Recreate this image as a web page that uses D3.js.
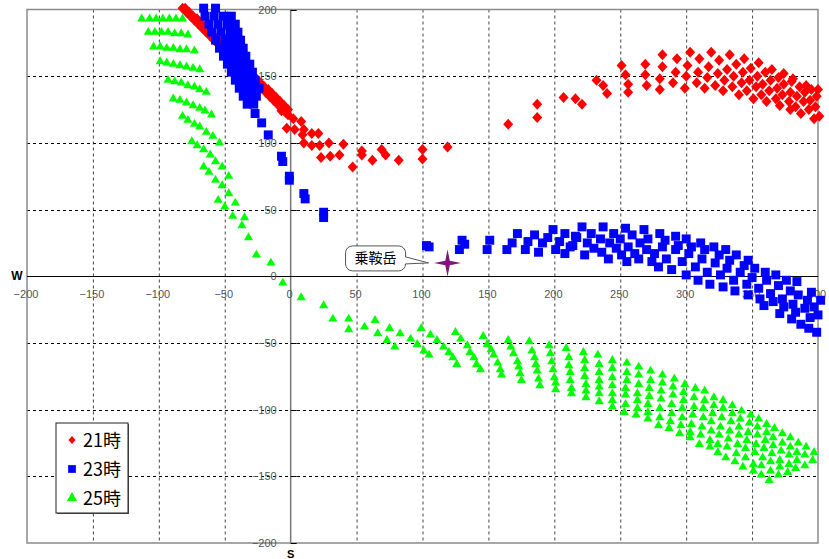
<!DOCTYPE html>
<html>
<head>
<meta charset="utf-8">
<script src="https://cdn.jsdelivr.net/npm/d3@7"></script>
<style>
  body { margin: 0; background: #fff; }
  svg { display: block; }
</style>
</head>
<body>
<script>
const width = 829;
const height = 559;
const marginTop = 9.5;
const marginRight = 11;
const marginBottom = 16;
const marginLeft = 27;

// 21時
const red21 = [
  [-82,201],[-80,201],[-79,198],[-77,198],[-76,195],[-74,195],[-73,192],[-71,193],[-70,189],[-68,190],
  [-67,186],[-65,187],[-64,183],[-62,184],[-61,180],[-59,181],[-58,177],[-56,178],[-55,174],[-53,175],
  [-52,171],[-50,172],[-49,168],[-47,169],[-46,165],[-44,166],[-43,162],[-41,163],[-40,159],[-38,160],
  [-37,156],[-35,157],[-34,153],[-32,154],[-31,150],[-29,151],[-28,147],[-26,148],[-25,144],[-23,145],
  [-22,141],[-20,142],[-19,138],[-17,140],[-16,135],[-14,137],[-13,132],[-11,134],[-10,129],[-8,131],
  [-7,126],[-5,128],[-4,123],[-2,125],[-7,124],[-4,124],[-2,121],[2,118],[-3,111],[3,110],
  [8,116],[10,110],[9,106],[16,107],[21,107],[10,100],[16,98],[22,98],[29,100],[40,99],
  [54,94],[69,95],[100,95],[119,97],[23,89],[30,90],[37,91],[47,82],[54,91],[62,87],
  [72,91],[82,87],[100,88],[165,114],[187,129],[187,119],
  [207,134],[216,133],[221,129],[232,147],[237,143],[240,137],[251,158],[254,151],[256,144],[256,138],
  [269,159],[269,151],[270,143],[280,140],[280,148],[282,157],[282,166],[290,145],[292,153],[293,163],
  [299,141],[300,150],[301,158],[303,168],[308,145],[309,153],[310,163],[314,141],[316,149],[317,157],
  [319,168],[322,143],[324,152],[325,162],[328,139],[329,147],[331,155],[333,166],[335,142],[336,150],
  [338,159],[340,136],[342,145],[343,153],[344,163],[346,139],[348,147],[349,156],[351,133],[353,142],
  [354,150],[355,160],[357,136],[358,144],[360,153],[361,131],[363,139],[364,147],[365,155],[368,133],
  [369,141],[370,149],[371,128],[373,136],[374,144],[374,152],[378,131],[379,138],[380,146],[381,148],
  [379,125],[383,127],[384,135],[386,142],[387,122],[389,131],[390,138],[391,143],[393,125],[394,132],
  [395,140],[397,118],[398,127],[399,135],[400,140],[401,120]
];

// 23時
const blue23 = [
  [-66,201],[-57,201],[-65,195],[-58,195],[-51,195],[-45,195],[-62,189],[-55,189],[-48,189],[-42,189],
  [-60,183],[-53,183],[-46,183],[-40,183],[-57,177],[-50,177],[-44,177],[-38,177],[-54,171],[-48,171],
  [-42,171],[-36,171],[-51,165],[-45,165],[-39,165],[-34,165],[-48,159],[-42,159],[-37,159],[-31,159],
  [-45,153],[-40,153],[-34,153],[-29,153],[-42,147],[-37,147],[-32,147],[-27,147],[-39,141],[-34,141],
  [-29,141],[-24,141],[-36,135],[-31,135],[-26,135],[-33,129],[-28,129],
  [-27,122],[-22,115],[-17,106],[-7,90],[-6,86],[-1,75],[-1,72],[10,62],[11,58],[25,48],[25,44],
  [103,23],[105,22],[128,20],[130,27],[132,24],[149,20],[151,27],[164,20],[168,25],[172,32],
  [178,20],[180,26],[185,31],[188,18],[191,25],[195,29],[199,35],[201,20],[204,26],[212,22],[217,29],
  [208,32],[208,17],[214,23],[216,30],[221,37],[223,16],[225,25],[228,32],[230,21],[235,28],
  [237,37],[236,18],[241,13],[242,25],[245,32],[247,21],[250,28],[251,16],[254,36],[255,11],
  [256,22],[259,31],[261,17],[264,13],[265,25],[268,35],[270,20],[271,28],[274,11],[276,17],
  [279,7],[280,32],[282,22],[284,27],[285,13],[289,5],[292,30],[292,20],[294,23],[297,11],
  [300,1],[300,28],[302,17],[304,22],[307,7],[309,-3],[311,25],[312,13],[314,20],[316,3],
  [318,-6],[321,22],[322,10],[325,16],[326,1],[328,-8],[330,20],[331,6],[333,12],[336,-3],
  [337,-11],[338,16],[341,3],[344,8],[346,-6],[347,-14],[347,12],[350,-1],[352,6],[355,-9],
  [356,-17],[359,-22],[360,3],[361,-3],[364,-13],[366,-19],[368,1],[370,-7],[371,-28],[373,-17],
  [374,-23],[376,-3],[379,-11],[380,-32],[381,-21],[383,-27],[384,-4],[385,-14],[387,-36],[390,-24],
  [392,-18],[393,-39],[394,-31],[395,-12],[397,-23],[399,-42],[400,-29],[402,-18]
];

// 25時
const green25 = [
  [-113,193],[-107,193],[-102,193],[-97,193],[-92,193],[-87,193],[-82,193],
  [-108,183],[-103,183],[-98,183],[-93,183],[-88,182],[-83,182],[-78,181],
  [-104,172],[-99,172],[-94,171],[-89,171],[-84,170],[-79,170],[-73,169],
  [-99,161],[-94,160],[-89,159],[-84,158],[-79,157],[-74,156],[-69,155],
  [-93,147],[-88,146],[-83,145],[-78,143],[-73,142],[-69,140],[-64,138],
  [-89,133],[-84,132],[-79,130],[-74,128],[-69,126],[-65,124],[-60,121],
  [-82,120],[-78,117],[-73,114],[-69,112],[-64,108],[-59,105],[-54,100],
  [-75,101],[-71,98],[-66,95],[-61,91],[-57,86],[-52,82],[-47,75],
  [-66,82],[-62,78],[-57,72],[-52,68],[-47,62],[-42,55],[-35,44],
  [-55,57],[-50,52],[-44,45],[-37,38],[-32,29],[-26,16],[-15,10],[-6,-5],
  [8,-16],[25,-22],[32,-32],[44,-32],[44,-40],[56,-38],[64,-33],[66,-43],[75,-39],[73,-48],
  [79,-53],[83,-43],[91,-47],[96,-51],[99,-39],[101,-56],[105,-59],[106,-44],[111,-48],[116,-53],
  [120,-57],[123,-61],[126,-66],[125,-42],[129,-47],[134,-52],[136,-57],[139,-61],[141,-66],[144,-70],
  [146,-45],[149,-51],[152,-55],[154,-59],[157,-65],[159,-70],[160,-74],
  [165,-48],[167,-53],[169,-58],[172,-64],[173,-68],[174,-73],[175,-78],
  [181,-49],[183,-56],[185,-61],[186,-66],[187,-71],[188,-77],[189,-82],
  [196,-52],[197,-58],[198,-64],[199,-70],[200,-76],[201,-80],[201,-85],
  [209,-54],[211,-61],[211,-67],[212,-72],[212,-78],[213,-84],[213,-88],
  [222,-57],[223,-63],[223,-69],[223,-75],[224,-81],[224,-86],[224,-91],
  [233,-59],[234,-66],[234,-72],[234,-78],[234,-83],[234,-88],[234,-94],
  [244,-63],[244,-69],[244,-76],[244,-82],[244,-88],[244,-93],[244,-98],
  [255,-65],[255,-72],[255,-78],[254,-84],[254,-89],[254,-96],[253,-102],
  [264,-68],[264,-74],[264,-81],[263,-88],[263,-93],[263,-99],[262,-104],
  [273,-71],[273,-78],[272,-84],[272,-90],[271,-96],[271,-102],[271,-107],
  [282,-74],[282,-80],[281,-86],[281,-92],[280,-99],[280,-106],[279,-112],
  [291,-77],[290,-83],[290,-89],[289,-96],[289,-103],[288,-109],[287,-114],
  [299,-81],[298,-87],[298,-93],[297,-99],[297,-106],[296,-112],[295,-118],
  [307,-84],[306,-91],[306,-98],[305,-104],[304,-111],[303,-117],[303,-121],
  [314,-86],[314,-93],[313,-99],[313,-106],[312,-113],[311,-119],[310,-126],
  [321,-91],[321,-97],[320,-103],[319,-109],[319,-116],[318,-123],[318,-128],
  [328,-93],[328,-99],[327,-106],[326,-113],[325,-119],[324,-126],[324,-132],
  [335,-97],[335,-103],[334,-109],[333,-116],[332,-122],[331,-128],[330,-136],
  [342,-101],[341,-107],[340,-113],[340,-119],[339,-126],[338,-133],[337,-139],
  [349,-104],[348,-110],[347,-117],[346,-123],[345,-129],[345,-136],[343,-143],
  [355,-107],[354,-113],[354,-119],[353,-126],[352,-132],[351,-141],[351,-146],
  [361,-111],[361,-117],[360,-123],[359,-129],[358,-136],[357,-142],[357,-149],[363,-153],
  [367,-114],[366,-121],[366,-127],[365,-133],[364,-139],[364,-146],[370,-149],
  [373,-118],[373,-125],[372,-131],[371,-138],[371,-143],[377,-147],
  [379,-121],[379,-128],[378,-134],[378,-141],[383,-144],
  [385,-125],[384,-132],[384,-138],[390,-142],
  [391,-128],[390,-134],[397,-132],[396,-138]
];

const xTicks = [-200, -150, -100, -50, 0, 50, 100, 150, 200, 250, 300, 350, 400];
const yTicks = [-200, -150, -100, -50, 0, 50, 100, 150, 200];
const seriesNames = ["21時", "23時", "25時"];
const seriesColors = ["#ff0000", "#0000ff", "#00ff00"];
const landmark = { name: "乗鞍岳", x: 119, y: 10 };

const xScale = d3.scaleLinear()
    .domain([-200, 400])
    .range([marginLeft, width - marginRight]);

const yScale = d3.scaleLinear()
    .domain([-200, 200])
    .range([height - marginBottom, marginTop]);

const fmt = d => d < 0 ? "\u2212" + Math.abs(d) : String(d);

const svg = d3.select("body")
    .append("svg")
    .attr("width", width)
    .attr("height", height);

//grid
svg.append("g")
  .selectAll("line")
  .data(xTicks.filter(d => d > -200 && d < 400 && d !== 0))
  .join("line")
    .attr("x1", d => xScale(d) + 0.5)
    .attr("x2", d => xScale(d) + 0.5)
    .attr("y1", yScale(200))
    .attr("y2", yScale(-200))
    .attr("stroke", "#444")
    .attr("stroke-dasharray", "3 3");

svg.append("g")
  .selectAll("line")
  .data(yTicks.filter(d => d > -200 && d < 200 && d !== 0))
  .join("line")
    .attr("x1", xScale(-200))
    .attr("x2", xScale(400))
    .attr("y1", d => Math.round(yScale(d)) + 0.5)
    .attr("y2", d => Math.round(yScale(d)) + 0.5)
    .attr("stroke", "#000")
    .attr("stroke-dasharray", "3 3");

//frame
svg.append("rect")
    .attr("x", xScale(-200))
    .attr("y", yScale(200))
    .attr("width", xScale(400) - xScale(-200))
    .attr("height", yScale(-200) - yScale(200))
    .attr("fill", "none")
    .attr("stroke", "#8a8a8a")
    .attr("stroke-width", 1.5);

//axes through origin
svg.append("line")
    .attr("x1", xScale(0))
    .attr("x2", xScale(0))
    .attr("y1", yScale(200))
    .attr("y2", yScale(-200))
    .attr("stroke", "#777")
    .attr("stroke-width", 1.5);

svg.append("line")
    .attr("x1", xScale(-200))
    .attr("x2", xScale(400))
    .attr("y1", Math.round(yScale(0)) + 0.5)
    .attr("y2", Math.round(yScale(0)) + 0.5)
    .attr("stroke", "#000")
    .attr("stroke-width", 1.2);

svg.append("g")
  .selectAll("line")
  .data(yTicks)
  .join("line")
    .attr("x1", xScale(0))
    .attr("x2", xScale(0) + 6)
    .attr("y1", d => Math.round(yScale(d)) + 0.5)
    .attr("y2", d => Math.round(yScale(d)) + 0.5)
    .attr("stroke", "#000");

//tick labels
const labelFont = "'Liberation Sans', Arial, sans-serif";

svg.append("g")
  .selectAll("text")
  .data(xTicks)
  .join("text")
    .attr("x", d => xScale(d) - 1)
    .attr("y", yScale(0) + 22)
    .attr("text-anchor", "middle")
    .attr("font-family", labelFont)
    .attr("font-size", 11)
    .attr("fill", "#555")
    .text(fmt);

svg.append("g")
  .selectAll("text")
  .data(yTicks)
  .join("text")
    .attr("x", xScale(0) - 14)
    .attr("y", d => yScale(d) + 4)
    .attr("text-anchor", "end")
    .attr("font-family", labelFont)
    .attr("font-size", 11)
    .attr("fill", "#555")
    .text(fmt);

//compass letters
svg.append("text")
    .attr("x", 17)
    .attr("y", yScale(0) + 4)
    .attr("text-anchor", "middle")
    .attr("font-family", labelFont)
    .attr("font-weight", "bold")
    .attr("font-size", 12)
    .text("W");

svg.append("text")
    .attr("x", xScale(0))
    .attr("y", height - 1)
    .attr("text-anchor", "middle")
    .attr("font-family", labelFont)
    .attr("font-weight", "bold")
    .attr("font-size", 11)
    .text("S");

//marker shapes
const diamond = "M0,-5.5L5,0L0,5.5L-5,0Z";
const square = d3.symbol().type(d3.symbolSquare).size(80)();
const triangle = d3.symbol().type(d3.symbolTriangle).size(36)();
const shapes = [diamond, square, triangle];
const seriesData = [red21, blue23, green25];

seriesData.forEach((data, i) => {
  svg.append("g")
    .selectAll("path")
    .data(data)
    .join("path")
      .attr("transform", d => `translate(${xScale(d[0])},${yScale(d[1])})`)
      .attr("d", shapes[i])
      .attr("fill", seriesColors[i]);
});

//landmark star + callout
const sx = xScale(landmark.x);
const sy = yScale(landmark.y);
const ro = 13.5, ri = 3.2;
const starPts = d3.range(8).map(k => {
  const a = k * Math.PI / 4 - Math.PI / 2;
  const r = k % 2 === 0 ? ro : ri;
  return [sx + r * Math.cos(a), sy + r * Math.sin(a)];
});
svg.append("path")
    .attr("d", d3.line()(starPts) + "Z")
    .attr("fill", "#80147f");

const bx0 = sx - 102, bx1 = sx - 42, by0 = sy - 17, by1 = sy + 8, rr = 7;
const callout = d3.path();
callout.moveTo(bx0 + rr, by0);
callout.lineTo(bx1 - rr, by0);
callout.arcTo(bx1, by0, bx1, by0 + rr, rr);
callout.lineTo(bx1, sy - 6);
callout.lineTo(sx - 19, sy);
callout.lineTo(bx1, sy + 1);
callout.arcTo(bx1, by1, bx1 - rr, by1, rr);
callout.lineTo(bx0 + rr, by1);
callout.arcTo(bx0, by1, bx0, by1 - rr, rr);
callout.lineTo(bx0, by0 + rr);
callout.arcTo(bx0, by0, bx0 + rr, by0, rr);
callout.closePath();

svg.append("path")
    .attr("d", callout.toString())
    .attr("fill", "#fff")
    .attr("stroke", "#555")
    .attr("stroke-width", 1);

svg.append("text")
    .attr("x", (bx0 + bx1) / 2)
    .attr("y", (by0 + by1) / 2 + 5)
    .attr("text-anchor", "middle")
    .attr("font-family", "'Noto Sans CJK JP', sans-serif")
    .attr("font-size", 14)
    .text(landmark.name);

//legend
const legend = svg.append("g").attr("transform", "translate(56,423)");

legend.append("rect")
    .attr("x", 1)
    .attr("y", 1)
    .attr("width", 72)
    .attr("height", 90)
    .attr("fill", "#555");

legend.append("rect")
    .attr("width", 72)
    .attr("height", 90)
    .attr("fill", "#fff")
    .attr("stroke", "#222");

const legendSymbols = [
  "M0,-4L3.5,0L0,4L-3.5,0Z",
  d3.symbol().type(d3.symbolSquare).size(60)(),
  d3.symbol().type(d3.symbolTriangle).size(45)()
];

seriesNames.forEach((name, i) => {
  const cy = 17 + i * 29;
  legend.append("path")
      .attr("transform", `translate(16,${cy})`)
      .attr("d", legendSymbols[i])
      .attr("fill", seriesColors[i]);
  legend.append("text")
      .attr("x", 27)
      .attr("y", cy + 7)
      .attr("font-family", "'Noto Sans CJK JP', sans-serif")
      .attr("font-size", 18)
      .attr("fill", "#000")
      .text(name);
});
</script>
</body>
</html>
